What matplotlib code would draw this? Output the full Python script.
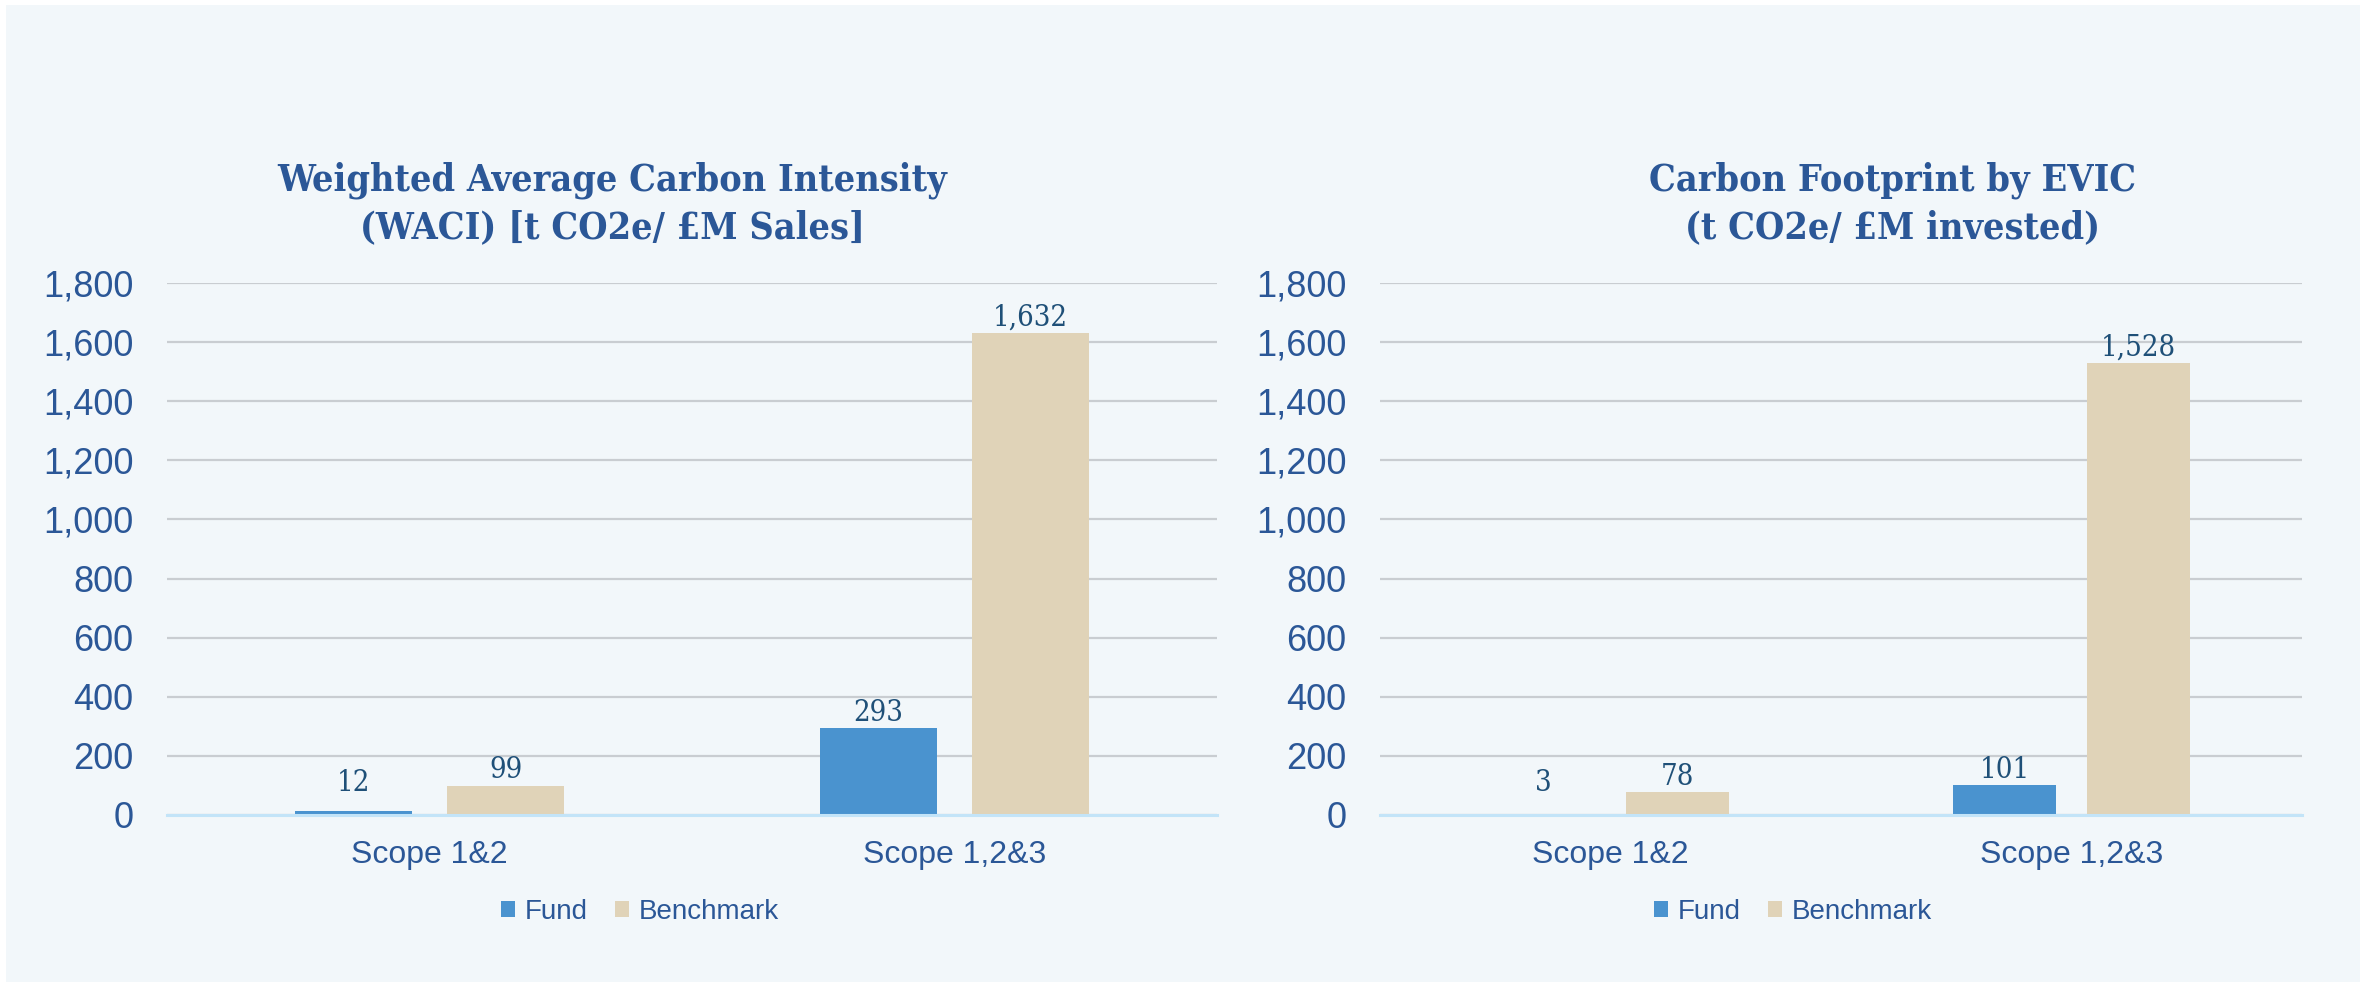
import matplotlib
matplotlib.use("Agg")
import matplotlib.pyplot as plt
from matplotlib.patches import Rectangle

# data
categories = ["Scope 1&2", "Scope 1,2&3"]
series_names = ["Fund", "Benchmark"]
waci_fund = [12, 293]
waci_benchmark = [99, 1632]
evic_fund = [3, 101]
evic_benchmark = [78, 1528]
y_ticks = [0, 200, 400, 600, 800, 1000, 1200, 1400, 1600, 1800]
titles = [
    "Weighted Average Carbon Intensity\n(WACI) [t CO2e/ £M Sales]",
    "Carbon Footprint by EVIC\n(t CO2e/ £M invested)",
]

FUND_COLOR = "#4A93CF"
BENCH_COLOR = "#E0D3B8"
TEXT_COLOR = "#2B5797"
LABEL_COLOR = "#1F5078"
BG_COLOR = "#F2F7FA"
GRID_COLOR = "#C9CDD1"
ZERO_COLOR = "#C3E4F8"

W, H = 2369, 986
fig = plt.figure(figsize=(W / 100, H / 100), dpi=100)
fig.patch.set_facecolor("white")
fig.patches.append(
    Rectangle((6 / W, 1 - 982 / H), (2360 - 6) / W, (982 - 5) / H,
              transform=fig.transFigure, facecolor=BG_COLOR, edgecolor="none", zorder=-10)
)

tick_font = "Liberation Sans"


def draw_panel(ax, fund, bench, title, title_x, legend_x):
    x = list(range(len(categories)))
    width = 0.222
    off = 0.145
    b1 = ax.bar([i - off for i in x], fund, width, color=FUND_COLOR, label=series_names[0], zorder=3)
    b2 = ax.bar([i + off for i in x], bench, width, color=BENCH_COLOR, label=series_names[1], zorder=3)

    # value labels above bars (small values are lifted a bit like in the source)
    for bars, vals in ((b1, fund), (b2, bench)):
        for rect, v in zip(bars, vals):
            ax.annotate(f"{v:,}", (rect.get_x() + rect.get_width() / 2, max(v, 55)),
                        xytext=(0, 1), textcoords="offset points", ha="center", va="bottom",
                        fontsize=21, color=LABEL_COLOR, family="DejaVu Serif",
                        fontstretch="condensed", fontweight="light")

    ax.set_facecolor("none")
    ax.set_xlim(-0.5, len(categories) - 0.5)
    ax.set_ylim(0, 1800)
    ax.set_yticks(y_ticks)
    ax.set_yticklabels([f"{t:,}" for t in y_ticks])
    ax.set_xticks(x)
    ax.set_xticklabels(categories)
    ax.grid(axis="y", color=GRID_COLOR, linewidth=1.6, zorder=0)
    ax.set_axisbelow(True)
    for s in ("top", "right", "left"):
        ax.spines[s].set_visible(False)
    ax.spines["bottom"].set_color(ZERO_COLOR)
    ax.spines["bottom"].set_linewidth(2.2)
    ax.spines["bottom"].set_zorder(4)
    ax.tick_params(axis="y", length=0, pad=24, labelsize=26, labelcolor=TEXT_COLOR)
    ax.tick_params(axis="x", length=0, pad=18, labelsize=23, labelcolor=TEXT_COLOR)
    for lbl in ax.get_yticklabels() + ax.get_xticklabels():
        lbl.set_family(tick_font)

    fig.text(title_x, 1 - 204 / H, title, ha="center", va="center", fontsize=27,
             fontweight="bold", color=TEXT_COLOR, family="DejaVu Serif",
             fontstretch="condensed", linespacing=1.35)

    fig.legend(handles=[b1, b2], loc="center", bbox_to_anchor=(legend_x, 1 - 912 / H),
               ncol=2, frameon=False, handlelength=0.5, handleheight=0.5,
               handletextpad=0.35, columnspacing=1.0,
               prop={"family": tick_font, "size": 20}, labelcolor=TEXT_COLOR)


ax1 = fig.add_axes([167 / W, 1 - 815 / H, (1217 - 167) / W, (815 - 283) / H])
ax2 = fig.add_axes([1380 / W, 1 - 815 / H, (2302 - 1380) / W, (815 - 283) / H])

draw_panel(ax1, waci_fund, waci_benchmark, titles[0], 612 / W, 640 / W)
draw_panel(ax2, evic_fund, evic_benchmark, titles[1], 1893 / W, 1793 / W)

fig.savefig("out.png", dpi=100, facecolor=fig.get_facecolor())
